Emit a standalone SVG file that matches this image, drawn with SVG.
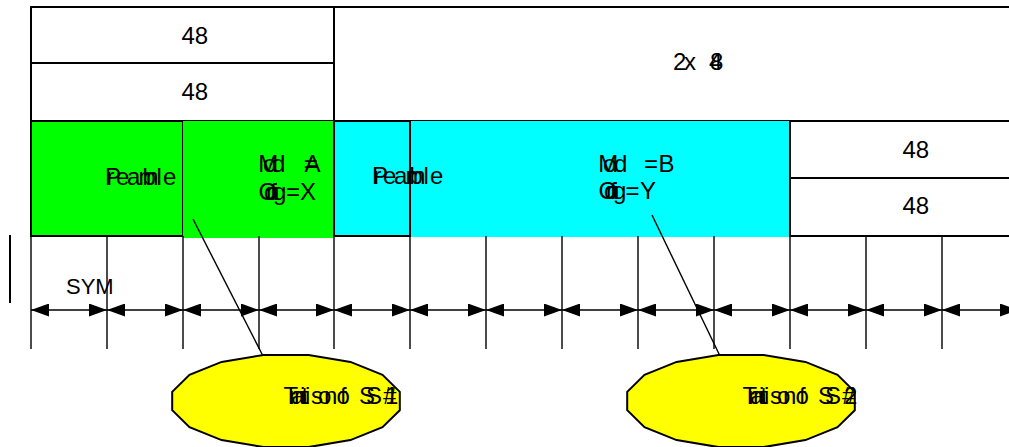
<svg xmlns="http://www.w3.org/2000/svg" width="1009" height="447" viewBox="0 0 1009 447">
<style>
.bx{fill:#fff;stroke:#000;stroke-width:2}
.gr{fill:#00ff00}
.cy{fill:#00ffff}
.ln{stroke:#000;stroke-width:2;fill:none}
.tk{stroke:#000;stroke-width:1.4;fill:none}
.ar{stroke:#000;stroke-width:1.4;fill:none;marker-start:url(#ah);marker-end:url(#ah)}
.el{fill:#ffff00;stroke:#000;stroke-width:2}
text{font-family:"Liberation Sans",Arial,sans-serif;font-size:24px;fill:#000}
</style>
<defs>
<marker id="ah" markerUnits="userSpaceOnUse" markerWidth="18" markerHeight="13" refX="18" refY="6.5" orient="auto-start-reverse">
<path d="M0,0 L18,6.5 L0,13 z" fill="#000"/>
</marker>
</defs>
<g id="top-48a"><rect class="bx" x="31" y="7" width="303" height="56"/><text x="181.5" y="43.5">48</text></g>
<g id="top-48b"><rect class="bx" x="31" y="63" width="303" height="58"/><text x="181.5" y="99.5">48</text></g>
<g id="top-2x48"><rect class="bx" x="334" y="7" width="690" height="114"/><text x="673 684 696 709 710" y="70">2x 48</text></g>
<g id="ss1-preamble"><rect class="gr" x="31" y="121" width="152" height="115"/><rect class="ln" x="31" y="121" width="152" height="115"/><text x="105 106.5 116 127 138.5 142.5 156.5 163" y="185">Preamble</text></g>
<g id="ss1-mod"><rect class="gr" x="183" y="121" width="151" height="117"/><text x="258.3 263 272 285 303.7 304.5" y="172">Mod =A</text><text x="258.5 264 266 270 273 273 286 300" y="200">Config=X</text></g>
<g id="ss2-mod"><rect class="cy" x="410" y="121" width="380" height="116"/><text x="598.3 603 614 630 644 658.5" y="172">Mod =B</text><text x="598.5 604 606 610 613 613 625.5 640" y="199">Config=Y</text></g>
<g id="ss2-preamble"><rect class="cy" x="334" y="121" width="76" height="115"/><text x="372 373.5 383 394 405.5 409.5 423.5 430" y="184">Preamble</text><rect class="ln" x="334" y="121" width="76" height="115"/></g>
<g id="right-48a"><rect class="bx" x="790" y="121" width="234" height="57"/><text x="902.5" y="157.5">48</text></g>
<g id="right-48b"><rect class="bx" x="790" y="178" width="234" height="58"/><text x="902.5" y="214">48</text></g>
<g id="sym-label"><text x="66" y="294" style="font-size:22px">SYM</text></g>
<g id="connectors">
<line class="ln" x1="10" y1="235" x2="10" y2="303"/>
<path class="tk" d="M31,236V349M107,236V349M183,236V349M259,236V349M334,236V349M410,236V349M486,236V349M562,236V349M638,236V349M714,236V349M790,236V349M866,236V349M942,236V349"/>
<line class="ar" x1="31" y1="310" x2="107" y2="310"/>
<line class="ar" x1="107" y1="310" x2="183" y2="310"/>
<line class="ar" x1="183" y1="310" x2="259" y2="310"/>
<line class="ar" x1="259" y1="310" x2="334" y2="310"/>
<line class="ar" x1="334" y1="310" x2="410" y2="310"/>
<line class="ar" x1="410" y1="310" x2="486" y2="310"/>
<line class="ar" x1="486" y1="310" x2="562" y2="310"/>
<line class="ar" x1="562" y1="310" x2="638" y2="310"/>
<line class="ar" x1="638" y1="310" x2="714" y2="310"/>
<line class="ar" x1="714" y1="310" x2="790" y2="310"/>
<line class="ar" x1="790" y1="310" x2="866" y2="310"/>
<line class="ar" x1="866" y1="310" x2="942" y2="310"/>
<line class="ar" x1="942" y1="310" x2="1018" y2="310"/>
<line class="tk" x1="193" y1="219" x2="263" y2="356"/>
<line class="tk" x1="652" y1="215" x2="720" y2="356"/>
</g>
<g id="transition-1"><polygon class="el" points="399.8,410.2 382.5,427.1 350.4,440.1 308.6,447.1 263.4,447.1 221.6,440.1 189.5,427.1 172.2,410.2 172.2,391.8 189.5,374.9 221.6,361.9 263.4,354.9 308.6,354.9 350.4,361.9 382.5,374.9 399.8,391.8"/><text x="283.5 289 291 294 311 300 301.5 305 318 324 336 336.5 340 348 359 366 383 385" y="404">Transition of SS#1</text></g>
<g id="transition-2"><polygon class="el" transform="translate(455,0)" points="399.8,410.2 382.5,427.1 350.4,440.1 308.6,447.1 263.4,447.1 221.6,440.1 189.5,427.1 172.2,410.2 172.2,391.8 189.5,374.9 221.6,361.9 263.4,354.9 308.6,354.9 350.4,361.9 382.5,374.9 399.8,391.8"/><text x="742.5 748 750 753 770 759 760.5 764 777 783 795 795.5 799 807 818 825 842 844" y="404">Transition of SS#2</text></g>
</svg>
